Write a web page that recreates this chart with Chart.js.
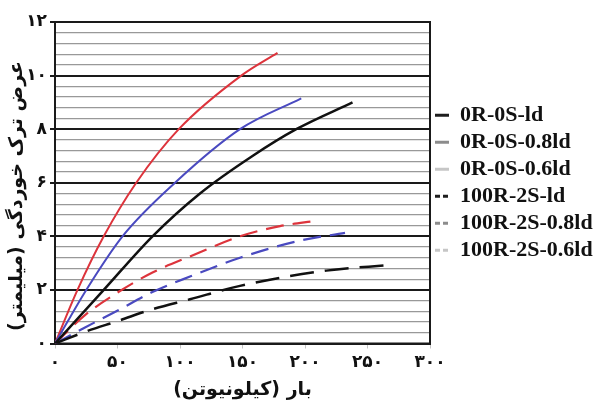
<!DOCTYPE html>
<html>
<head>
<meta charset="utf-8">
<script src="https://cdn.jsdelivr.net/npm/chart.js@4"></script>
<style>
  html, body { margin: 0; padding: 0; background: #fff; }
  #wrap { width: 595px; height: 402px; }
</style>
</head>
<body>
<div id="wrap"><canvas id="crackChart" width="595" height="402"></canvas></div>
<script>
// بار (kN) در برابر عرض ترک (mm)
const seriesNames = ['0R-0S-ld', '0R-0S-0.8ld', '0R-0S-0.6ld', '100R-2S-ld', '100R-2S-0.8ld', '100R-2S-0.6ld'];

const load_0R_ld    = [0, 39, 78, 116, 158, 193, 238];
const crack_0R_ld   = [0, 2, 4, 5.6, 7, 8, 9];
const load_0R_08ld  = [0, 25, 54, 96, 148, 197];
const crack_0R_08ld = [0, 2, 4, 6, 8, 9.15];
const load_0R_06ld  = [0, 18, 39, 65, 99, 149, 178];
const crack_0R_06ld = [0, 2, 4, 6, 8, 10, 10.85];

const load_100R_ld    = [0, 25, 51, 76, 108, 148, 217, 268];
const crack_100R_ld   = [0, 0.45, 0.85, 1.25, 1.65, 2.15, 2.72, 2.93];
const load_100R_08ld  = [0, 24, 51, 77, 108, 148, 196, 232];
const crack_100R_08ld = [0, 0.6, 1.25, 1.9, 2.5, 3.2, 3.84, 4.13];
const load_100R_06ld  = [0, 24, 51, 78, 108, 148, 180, 209];
const crack_100R_06ld = [0, 1.06, 1.93, 2.65, 3.25, 4.0, 4.38, 4.58];

const xTickValues = [0, 50, 100, 150, 200, 250, 300];
const yTickValues = [0, 2, 4, 6, 8, 10, 12];
const yMinorStep = 0.4;

const faDigits = '۰۱۲۳۴۵۶۷۸۹';
const toFa = n => String(n).replace(/\d/g, d => faDigits[d]);
const isMajor = v => yTickValues.some(t => Math.abs(t - v) < 1e-6);
const pts = (xs, ys) => xs.map((x, i) => ({ x: x, y: ys[i] }));

const RED = 'rgb(221, 52, 60)';
const BLUE = 'rgb(74, 74, 192)';
const BLACK = '#111';
const legendStroke = ['#1e1e1e', '#8c8c8c', '#c6c6c6', '#1e1e1e', '#8c8c8c', '#c6c6c6'];

function curve(label, data, color, width, dash) {
    return {
        label: label,
        data: data,
        borderColor: color,
        backgroundColor: color,
        borderWidth: width,
        borderDash: dash,
        pointRadius: 0,
        fill: false,
        cubicInterpolationMode: 'monotone'
    };
}

// قاب دور ناحیه نمودار
const plotFrame = {
    id: 'plotFrame',
    beforeDatasetsDraw(chart) {
        const { ctx, chartArea: a } = chart;
        ctx.save();
        ctx.strokeStyle = '#1a1a1a';
        ctx.lineWidth = 2;
        ctx.strokeRect(a.left, a.top, a.right - a.left, a.bottom - a.top);
        ctx.restore();
    }
};

const faFont = '"DejaVu Sans", "Noto Sans", sans-serif';

new Chart(document.getElementById('crackChart').getContext('2d'), {
    type: 'line',
    data: {
        datasets: [
            curve(seriesNames[0], pts(load_0R_ld, crack_0R_ld), BLACK, 2.5, []),
            curve(seriesNames[1], pts(load_0R_08ld, crack_0R_08ld), BLUE, 2, []),
            curve(seriesNames[2], pts(load_0R_06ld, crack_0R_06ld), RED, 2, []),
            curve(seriesNames[3], pts(load_100R_ld, crack_100R_ld), BLACK, 2.5, [24, 11]),
            curve(seriesNames[4], pts(load_100R_08ld, crack_100R_08ld), BLUE, 2.2, [18, 9]),
            curve(seriesNames[5], pts(load_100R_06ld, crack_100R_06ld), RED, 2.2, [18, 9])
        ]
    },
    options: {
        responsive: false,
        animation: false,
        devicePixelRatio: 1,
        layout: { padding: { top: 22, right: 1, left: 0, bottom: 0 } },
        plugins: {
            tooltip: { enabled: false },
            legend: {
                display: true,
                position: 'right',
                align: 'center',
                fullSize: false,
                maxWidth: 164,
                labels: {
                    usePointStyle: true,
                    pointStyleWidth: 14,
                    padding: 5,
                    color: '#111',
                    font: { family: '"Liberation Serif", "Times New Roman", serif', size: 22, weight: 'bold' },
                    generateLabels: chart => chart.data.datasets.map((ds, i) => ({
                        text: ds.label,
                        strokeStyle: legendStroke[i],
                        fillStyle: legendStroke[i],
                        lineWidth: 3,
                        lineDash: i < 3 ? [] : [5, 3],
                        pointStyle: 'line',
                        fontColor: '#111',
                        hidden: false,
                        datasetIndex: i
                    }))
                }
            }
        },
        scales: {
            x: {
                type: 'linear',
                min: 0,
                max: 300,
                afterFit: s => { s.height = 58.5; },
                afterBuildTicks: s => { s.ticks = xTickValues.map(v => ({ value: v })); },
                ticks: {
                    padding: 4,
                    color: '#111',
                    font: { family: faFont, size: 17, weight: 'bold' },
                    callback: v => toFa(v)
                },
                grid: { drawOnChartArea: false, drawTicks: true, tickLength: 5, color: '#c4c4c4' },
                border: { display: true, color: '#1a1a1a', width: 2 },
                title: {
                    display: true,
                    text: '(کیلونیوتن) بار',
                    color: '#111',
                    font: { family: faFont, size: 19, weight: 'bold' },
                    padding: { top: 0, bottom: 1 }
                }
            },
            y: {
                type: 'linear',
                min: 0,
                max: 12,
                afterFit: s => { s.width = 55; },
                ticks: {
                    stepSize: yMinorStep,
                    autoSkip: false,
                    padding: 3,
                    color: '#111',
                    font: { family: faFont, size: 17, weight: 'bold' },
                    callback: v => isMajor(v) ? toFa(Math.round(v)) : ''
                },
                grid: {
                    color: c => isMajor(c.tick.value) ? '#1a1a1a' : '#999',
                    lineWidth: c => isMajor(c.tick.value) ? 2 : 1.2,
                    tickColor: c => isMajor(c.tick.value) ? '#1a1a1a' : 'rgba(0,0,0,0)',
                    tickLength: 5
                },
                border: { display: true, color: '#1a1a1a', width: 2 },
                title: {
                    display: true,
                    text: 'عرض ترک خوردگی (میلیمتر)\u00A0\u00A0\u00A0\u00A0',
                    color: '#111',
                    font: { family: faFont, size: 19, weight: 'bold' },
                    padding: { top: 6, bottom: 0 }
                }
            }
        }
    },
    plugins: [plotFrame]
});
</script>
</body>
</html>
